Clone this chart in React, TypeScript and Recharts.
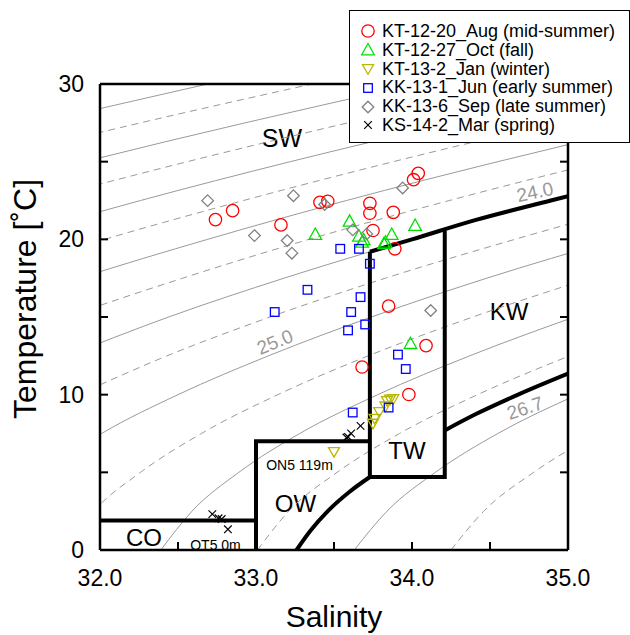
import React from 'react';
import { ComposedChart, Line, Scatter, XAxis, YAxis, Legend, Customized } from 'recharts';

const FONT = '"Liberation Sans", Arial, Helvetica, sans-serif';
const GRID = '#9a9a9a';

// axis ticks
const salinityTicks = [32, 32.5, 33, 33.5, 34, 34.5, 35];
const tempTicks = [0, 5, 10, 15, 20, 25, 30];

// samples [salinity, temperature]
const augData = [
  [32.74, 21.27], [32.85, 21.85], [33.16, 20.93], [33.41, 22.38], [33.46, 22.45], [34.04, 24.25],
  [34.01, 23.84], [33.73, 22.32], [33.73, 21.68], [33.88, 21.74], [33.75, 20.57], [33.89, 19.39],
  [33.85, 15.7], [34.09, 13.16], [33.68, 11.78], [33.98, 10.01],
];
const octData = [
  [33.38, 20.31], [33.6, 21.16], [33.66, 20.2], [33.69, 19.97], [33.68, 19.81], [33.82, 19.71],
  [33.83, 19.81], [33.87, 20.31], [34.02, 20.89], [33.99, 13.28],
];
const janData = [
  [33.75, 8.14], [33.76, 8.46], [33.79, 8.89], [33.83, 9.25], [33.84, 9.6], [33.86, 9.7],
  [33.88, 9.72], [33.5, 6.32],
];
const junData = [
  [33.33, 16.75], [33.12, 15.32], [33.54, 19.39], [33.66, 19.39], [33.73, 18.43], [33.67, 16.28],
  [33.61, 15.32], [33.7, 14.52], [33.59, 14.14], [33.91, 12.58], [33.96, 11.65], [33.62, 8.85],
  [33.85, 9.17],
];
const sepData = [
  [32.69, 22.49], [33.24, 22.81], [32.99, 20.24], [33.2, 19.92], [33.23, 19.11], [33.44, 22.24],
  [33.94, 23.31], [33.62, 20.61], [33.71, 20.35], [34.12, 15.42],
];
const marData = [
  [33.67, 7.99], [33.61, 7.5], [33.59, 7.28], [33.58, 7.24], [32.72, 2.31], [32.76, 2.04],
  [32.78, 1.99], [32.82, 1.33],
];

// isopycnals (sigma-theta), [salinity, temperature]
const sig200 = [[31.6, 27.5], [32.69, 30]];
const sig205 = [[31.23, 25], [32.26, 27.5], [33.36, 30]];
const sig210 = [[30.94, 22.5], [31.9, 25], [32.93, 27.5], [34.03, 30]];
const sig215 = [[31.6, 22.5], [32.56, 25], [33.59, 27.5], [34.69, 30]];
const sig220 = [[31.38, 20], [32.26, 22.5], [33.22, 25], [34.26, 27.5], [35.36, 30]];
const sig225 = [[31.22, 17.5], [32.03, 20], [32.92, 22.5], [33.88, 25], [34.92, 27.5], [36.03, 30]];
const sig230 = [[31.14, 15], [31.87, 17.5], [32.69, 20], [33.58, 22.5], [34.55, 25], [35.59, 27.5]];
const sig235 = [[31.14, 12.5], [31.79, 15], [32.53, 17.5], [33.34, 20], [34.24, 22.5], [35.21, 25]];
const sig240 = [[31.79, 12.5], [32.44, 15], [33.18, 17.5], [34.0, 20], [34.89, 22.5], [35.87, 25]];
const sig245 = [[31.86, 10], [32.43, 12.5], [33.09, 15], [33.83, 17.5], [34.66, 20], [35.55, 22.5]];
const sig250 = [[31.63, 5], [32.01, 7.5], [32.5, 10], [33.08, 12.5], [33.74, 15], [34.48, 17.5], [35.31, 20]];
const sig255 = [[31.77, 0], [31.96, 2.5], [32.26, 5], [32.65, 7.5], [33.14, 10], [33.72, 12.5], [34.39, 15], [35.14, 17.5]];
const sig260 = [[32.39, 0], [32.59, 2.5], [32.89, 5], [33.28, 7.5], [33.78, 10], [34.37, 12.5], [35.04, 15]];
const sig265 = [[33.01, 0], [33.21, 2.5], [33.52, 5], [33.92, 7.5], [34.42, 10], [35.01, 12.5]];
const sig270 = [[33.63, 0], [33.84, 2.5], [34.15, 5], [34.55, 7.5], [35.06, 10]];
const sig275 = [[34.25, 0], [34.46, 2.5], [34.78, 5], [35.19, 7.5]];

// water mass boundaries
const coTop = [[32, 1.9], [33, 1.9]];
const owBox = [[33, 0], [33, 7], [33.73, 7]];
const owCurve = [[33.26, 0], [33.35, 1.25], [33.46, 2.5], [33.6, 3.75], [33.73, 4.7]];
const twBox = [[33.73, 19.2], [33.73, 4.7], [34.21, 4.7], [34.21, 20.55]];
const kwTop = [[33.73, 19.2], [34.0, 20], [34.41, 21.25], [34.89, 22.5], [35.0, 22.78]];
const kwBottom = [[34.21, 7.7], [34.41, 8.75], [34.68, 10], [35.0, 11.35]];

const toPts = (arr: number[][]) => arr.map(([s, t]) => ({ s, t }));

const contours = [
  sig200, sig205, sig210, sig215, sig220, sig225, sig230, sig235,
  sig240, sig245, sig250, sig255, sig260, sig265, sig270, sig275,
];
const boundaries = [
  { pts: coTop, type: 'linear' }, { pts: owBox, type: 'linear' }, { pts: owCurve, type: 'monotone' },
  { pts: twBox, type: 'linear' }, { pts: kwTop, type: 'monotone' }, { pts: kwBottom, type: 'monotone' },
];

const series = [
  { name: 'KT-12-20_Aug (mid-summer)', data: augData, kind: 'circle', color: '#ff0000' },
  { name: 'KT-12-27_Oct (fall)', data: octData, kind: 'up', color: '#00e000' },
  { name: 'KT-13-2_Jan (winter)', data: janData, kind: 'down', color: '#b8b800' },
  { name: 'KK-13-1_Jun (early summer)', data: junData, kind: 'square', color: '#0000ff' },
  { name: 'KK-13-6_Sep (late summer)', data: sepData, kind: 'diamond', color: '#808080' },
  { name: 'KS-14-2_Mar (spring)', data: marData, kind: 'x', color: '#000000' },
];

const Marker = ({ kind, cx, cy, color }: any) => {
  const sw = 1.3;
  if (kind === 'circle') return <circle cx={cx} cy={cy} r={6.2} fill="none" stroke={color} strokeWidth={sw} />;
  if (kind === 'up')
    return <polygon points={`${cx},${cy - 6.5} ${cx - 6.3},${cy + 4.8} ${cx + 6.3},${cy + 4.8}`} fill="none" stroke={color} strokeWidth={sw} />;
  if (kind === 'down')
    return <polygon points={`${cx - 5.5},${cy - 4.3} ${cx + 5.5},${cy - 4.3} ${cx},${cy + 5.3}`} fill="none" stroke={color} strokeWidth={sw} />;
  if (kind === 'square') return <rect x={cx - 4.3} y={cy - 4.3} width={8.6} height={8.6} fill="none" stroke={color} strokeWidth={sw} />;
  if (kind === 'diamond')
    return <polygon points={`${cx},${cy - 5.8} ${cx + 5.8},${cy} ${cx},${cy + 5.8} ${cx - 5.8},${cy}`} fill="none" stroke={color} strokeWidth={sw} />;
  return (
    <g stroke={color} strokeWidth={1.2}>
      <line x1={cx - 3.8} y1={cy - 3.8} x2={cx + 3.8} y2={cy + 3.8} />
      <line x1={cx - 3.8} y1={cy + 3.8} x2={cx + 3.8} y2={cy - 3.8} />
    </g>
  );
};

const isInt = (v: number) => Math.abs(v - Math.round(v)) < 1e-6;

const BottomTick = ({ x, y, payload }: any) => (
  <g>
    <line x1={x} y1={y} x2={x} y2={y - 8} stroke="#000" strokeWidth={2} />
    {isInt(payload.value) && (
      <text x={x} y={y + 36} textAnchor="middle" fontSize={23} fontFamily={FONT} fill="#000">
        {payload.value.toFixed(1)}
      </text>
    )}
  </g>
);
const TopTick = ({ x, y }: any) => <line x1={x} y1={y} x2={x} y2={y + 8} stroke="#000" strokeWidth={2} />;
const LeftTick = ({ x, y, payload }: any) => (
  <g>
    <line x1={x} y1={y} x2={x + 8} y2={y} stroke="#000" strokeWidth={2} />
    {payload.value % 10 === 0 && (
      <text x={x - 16} y={y} textAnchor="end" dominantBaseline="central" fontSize={23} fontFamily={FONT} fill="#000">
        {payload.value}
      </text>
    )}
  </g>
);
const RightTick = ({ x, y }: any) => <line x1={x} y1={y} x2={x - 8} y2={y} stroke="#000" strokeWidth={2} />;

const Annotations = () => (
  <g fontFamily={FONT}>
    <text x={282} y={138} fontSize={25} textAnchor="middle" dominantBaseline="central">SW</text>
    <text x={509} y={311} fontSize={24} textAnchor="middle" dominantBaseline="central">KW</text>
    <text x={407} y={450} fontSize={24} textAnchor="middle" dominantBaseline="central">TW</text>
    <text x={295.5} y={503} fontSize={24} textAnchor="middle" dominantBaseline="central">OW</text>
    <text x={144} y={537} fontSize={24} textAnchor="middle" dominantBaseline="central">CO</text>
    <text x={299.5} y={464.5} fontSize={14} textAnchor="middle" dominantBaseline="central">ON5 119m</text>
    <text x={215.5} y={545} fontSize={14} textAnchor="middle" dominantBaseline="central">OT5 0m</text>
    <text x={535} y={192} fontSize={19} fill="#999" textAnchor="middle" dominantBaseline="central" transform="rotate(-12 535 192)">24.0</text>
    <text x={275} y={342} fontSize={19} fill="#999" textAnchor="middle" dominantBaseline="central" transform="rotate(-22 275 342)">25.0</text>
    <text x={525} y={408} fontSize={19} fill="#999" textAnchor="middle" dominantBaseline="central" transform="rotate(-18 525 408)">26.7</text>
    <text x={334} y={627} fontSize={30} textAnchor="middle">Salinity</text>
    <text transform="translate(25 299) rotate(-90)" fontSize={32} textAnchor="middle" dominantBaseline="central">Temperature [˚C]</text>
  </g>
);

const LegendBox = () => (
  <div
    style={{
      boxSizing: 'border-box', width: 281, height: 133, border: '1.5px solid #000', background: '#fff',
      padding: '11px 0 0 8px', fontFamily: FONT, fontSize: 18, lineHeight: '18.8px', color: '#000',
    }}
  >
    {series.map((s) => (
      <div key={s.name} style={{ display: 'flex', alignItems: 'center', height: 18.8, whiteSpace: 'nowrap' }}>
        <svg width={20} height={18} style={{ marginRight: 4, flex: 'none' }}>
          <Marker kind={s.kind} cx={10} cy={9} color={s.color} />
        </svg>
        <span>{s.name}</span>
      </div>
    ))}
  </div>
);

export default function App() {
  return (
    <div style={{ position: 'absolute', left: 0, top: 0, width: 630, height: 635, overflow: 'hidden', background: '#fff' }}>
      <ComposedChart width={630} height={635} margin={{ top: 83, right: 61, bottom: 84, left: 99 }}>
        <XAxis xAxisId={0} type="number" dataKey="s" domain={[32, 35]} ticks={salinityTicks} interval={0}
          allowDataOverflow height={1} tickSize={0} tickMargin={0} tick={<BottomTick />} tickLine={false}
          axisLine={{ stroke: '#000', strokeWidth: 2.5 }} />
        <XAxis xAxisId="top" orientation="top" type="number" domain={[32, 35]} ticks={salinityTicks} interval={0}
          allowDataOverflow height={1} tickSize={0} tickMargin={0} tick={<TopTick />} tickLine={false}
          axisLine={{ stroke: '#000', strokeWidth: 2.5 }} />
        <YAxis yAxisId={0} type="number" dataKey="t" domain={[0, 30]} ticks={tempTicks} interval={0}
          allowDataOverflow width={1} tickSize={0} tickMargin={0} tick={<LeftTick />} tickLine={false}
          axisLine={{ stroke: '#000', strokeWidth: 2.5 }} />
        <YAxis yAxisId="right" orientation="right" type="number" domain={[0, 30]} ticks={tempTicks} interval={0}
          allowDataOverflow width={1} tickSize={0} tickMargin={0} tick={<RightTick />} tickLine={false}
          axisLine={{ stroke: '#000', strokeWidth: 2.5 }} />

        {contours.map((c, i) => (
          <Line key={`c${i}`} data={toPts(c)} dataKey="t" type="monotone" stroke={GRID} strokeWidth={1}
            strokeDasharray={i % 2 === 1 ? '7 5' : undefined} dot={false} activeDot={false}
            legendType="none" isAnimationActive={false} />
        ))}
        {boundaries.map((b, i) => (
          <Line key={`b${i}`} data={toPts(b.pts)} dataKey="t" type={b.type as any} stroke="#000" strokeWidth={4}
            dot={false} activeDot={false} legendType="none" isAnimationActive={false} />
        ))}
        {series.map((s) => (
          <Scatter key={s.name} name={s.name} data={toPts(s.data)} isAnimationActive={false}
            shape={(p: any) => <Marker kind={s.kind} cx={p.cx} cy={p.cy} color={s.color} />} />
        ))}
        <Customized component={Annotations} />
        <Legend content={<LegendBox />} layout="horizontal" verticalAlign="middle" align="center"
          wrapperStyle={{ left: 349, top: 10, width: 281, height: 133 }} />
      </ComposedChart>
    </div>
  );
}
